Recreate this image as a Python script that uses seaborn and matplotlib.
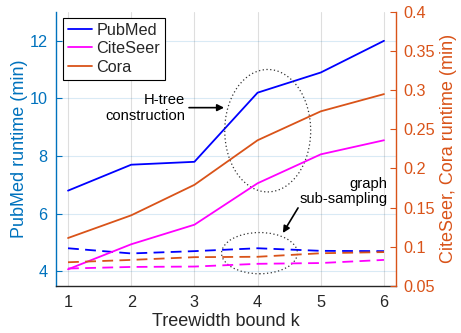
import matplotlib
matplotlib.use("Agg")
import matplotlib.pyplot as plt
from matplotlib.patches import Ellipse
from matplotlib.lines import Line2D
import seaborn as sns
import pandas as pd

# ---- data ----
k = [1, 2, 3, 4, 5, 6]
pubmed_total = [6.8, 7.7, 7.8, 10.2, 10.9, 12.0]          # left axis
pubmed_sample = [4.80, 4.62, 4.70, 4.80, 4.71, 4.70]       # left axis, dashed
citeseer_total = [0.071, 0.103, 0.128, 0.181, 0.218, 0.236]  # right axis
citeseer_sample = [0.072, 0.074, 0.0745, 0.078, 0.079, 0.083]
cora_total = [0.111, 0.140, 0.179, 0.236, 0.273, 0.295]
cora_sample = [0.080, 0.083, 0.0865, 0.087, 0.0915, 0.093]
series_names = ["PubMed", "CiteSeer", "Cora"]
left_ticks = [4, 6, 8, 10, 12]
right_ticks = [0.05, 0.1, 0.15, 0.2, 0.25, 0.3, 0.35, 0.4]
right_ticklabels = ["0.05", "0.1", "0.15", "0.2", "0.25", "0.3", "0.35", "0.4"]

BLUE = "#0000FF"
MAG = "#FF00FF"
ORANGE = "#D95319"
LBLUE = "#0072BD"
DARK = "#262626"

sns.set_style("white")
plt.rcParams["font.family"] = ["Liberation Sans", "DejaVu Sans"]

fig = plt.figure(figsize=(4.61, 3.33), dpi=100)
ax = fig.add_axes([0.1215, 0.142, 0.859 - 0.1215, 0.964 - 0.142])
ax2 = ax.twinx()

df_left = pd.DataFrame({"k": k, "total": pubmed_total, "sample": pubmed_sample})
df_right = pd.DataFrame({"k": k, "cs_total": citeseer_total, "cs_sample": citeseer_sample,
                         "cora_total": cora_total, "cora_sample": cora_sample})

lw = 1.3
dash = (6, 3.5)
sns.lineplot(data=df_left, x="k", y="total", ax=ax, color=BLUE, lw=lw, legend=False)
sns.lineplot(data=df_left, x="k", y="sample", ax=ax, color=BLUE, lw=lw, legend=False).lines[-1].set_dashes(dash)
sns.lineplot(data=df_right, x="k", y="cs_total", ax=ax2, color=MAG, lw=lw, legend=False)
sns.lineplot(data=df_right, x="k", y="cora_total", ax=ax2, color=ORANGE, lw=lw, legend=False)
l = sns.lineplot(data=df_right, x="k", y="cs_sample", ax=ax2, color=MAG, lw=lw, legend=False).lines[-1]
l.set_dashes(dash)
l = sns.lineplot(data=df_right, x="k", y="cora_sample", ax=ax2, color=ORANGE, lw=lw, legend=False).lines[-1]
l.set_dashes(dash)

ax.set_xlim(0.81, 6.19)
ax.set_ylim(3.5, 13)
ax2.set_ylim(0.05, 0.4)
ax.set_xticks(k)
ax.set_yticks(left_ticks)
ax2.set_yticks(right_ticks)
ax2.set_yticklabels(right_ticklabels)

# grid
ax.set_axisbelow(True)
ax.yaxis.grid(True, color=LBLUE, alpha=0.15, lw=0.8)
ax.xaxis.grid(True, color=DARK, alpha=0.15, lw=0.8)

# spines
for a in (ax, ax2):
    a.spines["top"].set_visible(False)
ax.spines["right"].set_visible(False)
ax2.spines["left"].set_visible(False)
ax2.spines["bottom"].set_visible(False)
ax.spines["left"].set_color(LBLUE)
ax.spines["bottom"].set_color(DARK)
ax2.spines["right"].set_color(ORANGE)
for s in (ax.spines["left"], ax.spines["bottom"], ax2.spines["right"]):
    s.set_linewidth(1.0)

ax.tick_params(axis="y", direction="in", colors=LBLUE, labelsize=11.7, length=4, width=0.8, pad=6)
ax.tick_params(axis="x", direction="in", colors=DARK, labelsize=11.7, length=4, width=0.8, pad=7)
ax2.tick_params(axis="y", direction="in", colors=ORANGE, labelsize=11.7, length=4, width=0.8, pad=5)

ax.set_xlabel("Treewidth bound k", fontsize=13, color=DARK, labelpad=2)
ax.set_ylabel("PubMed runtime (min)", fontsize=13, color=LBLUE, labelpad=1)
ax2.set_ylabel("CiteSeer, Cora runtime (min)", fontsize=13, color=ORANGE, labelpad=4)

# ellipses (data coords of left axis)
ax.add_patch(Ellipse((4.16, 8.88), 1.36, 4.25, fill=False, ls=(0, (1, 2)), lw=0.9, color="#333333", zorder=5))
ax.add_patch(Ellipse((4.03, 4.63), 1.20, 1.43, fill=False, ls=(0, (1, 2)), lw=0.9, color="#333333", zorder=5))

# annotations
ax.annotate("", xy=(3.47, 9.68), xytext=(2.915, 9.68),
            arrowprops=dict(arrowstyle="-|>", color="k", lw=1.2, mutation_scale=10, shrinkA=0, shrinkB=0))
ax.text(2.85, 9.66, "H-tree\nconstruction", ha="right", va="center", multialignment="right",
        fontsize=10.6, color="k", linespacing=1.15)
ax.annotate("", xy=(4.40, 5.33), xytext=(4.64, 6.20),
            arrowprops=dict(arrowstyle="-|>", color="k", lw=1.2, mutation_scale=10, shrinkA=0, shrinkB=0))
ax.text(6.06, 6.77, "graph\nsub-sampling", ha="right", va="center", multialignment="right",
        fontsize=10.6, color="k", linespacing=1.15)

# legend
handles = [Line2D([], [], color=c, lw=lw) for c in (BLUE, MAG, ORANGE)]
leg = ax2.legend(handles, series_names, loc="upper left", bbox_to_anchor=(0.0206, 0.979),
                 fontsize=11.7, frameon=True, fancybox=False, framealpha=1,
                 edgecolor="k", handlelength=1.5, handletextpad=0.25, borderpad=0.3,
                 labelspacing=0.22, borderaxespad=0)
leg.get_frame().set_linewidth(0.8)

fig.savefig("out.png", dpi=100)
